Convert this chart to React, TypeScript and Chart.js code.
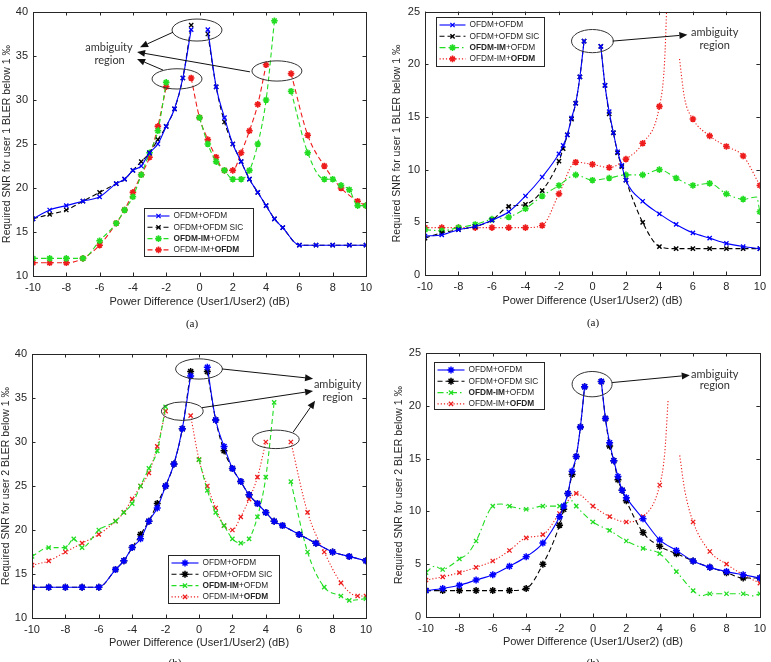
import React, { useEffect, useRef } from 'react';
import { Chart, registerables } from 'chart.js';

Chart.register(...registerables);
Chart.defaults.font.family = '"Liberation Sans", Arial, sans-serif';

const BLUE = '#0000ff';
const BLACK = '#000000';
const GREEN = '#22dd22';
const RED = '#ee1c1c';
const AXIS = '#262626';

// ---------------- data ----------------
// (a) left: user 1, scheme 1
const xA1 = [-10, -9, -8, -7, -6, -5, -4.5, -4, -3.5, -3, -2.5, -2, -1.5, -1, -0.5, 0, 0.5, 1, 1.5, 2, 2.5, 3, 3.5, 4, 4.5, 5, 6, 7, 8, 9, 10];
const yA1Ofdm = [16.5, 17.5, 18, 18.5, 19, 20.5, 21, 22, 22.5, 24, 25, 27, 29, 32.5, 38, null, 38, 31.5, 28, 25, 23, 21, 19.5, 18, 16.5, 15.5, 13.5, 13.5, 13.5, 13.5, 13.5];
const yA1Sic = [16.5, 17, 17.5, 18.5, 19.5, 20.5, 21, 22, 23, 24, 25.5, 27, 29, 32.5, 38.5, null, 37.5, 31.5, 27.5, 25, 23, 21, 19.5, 18, 16.5, 15.5, 13.5, 13.5, 13.5, 13.5, 13.5];
const xA1ImA = [-10, -9, -8, -7, -6, -5, -4.5, -4, -3.5, -3, -2.5, -2, -1, 0, 0.5, 1, 1.5, 2, 2.5, 3, 3.5, 4, 4.5, 5, 5.5, 6.5, 7.5, 8, 8.5, 9, 9.5, 10];
const yA1ImA = [12, 12, 12, 12, 14, 16, 17.5, 19, 21.5, 24, 26.5, 32, null, 28, 25, 23, 22, 21, 21, 22, 25, 30, 39, null, 31, 24, 21, 21, 20.3, 19.8, 18, 18];
const xA1ImB = [-10, -9, -8, -7, -6, -5, -4.5, -4, -3.5, -3, -2.5, -2, -1, -0.5, 0, 0.5, 1, 1.5, 2, 2.5, 3, 3.5, 4, 5, 5.5, 6.5, 7.5, 8.5, 9.5, 10];
const yA1ImB = [11.5, 11.5, 11.5, 12, 13.5, 16, 17.5, 19.5, 21.5, 23.5, 27, 31.5, null, 32.5, 28, 25.5, 23.5, 22, 22, 24, 26.5, 29.5, 34, null, 33, 26, 22.5, 20, 18.5, 18];

// (a) right: user 1, scheme 2
const xB1 = [-10, -9, -8, -7, -6, -5, -4, -3, -2, -1.75, -1.5, -1.25, -1, -0.75, -0.5, 0, 0.5, 0.75, 1, 1.25, 1.5, 1.75, 2, 3, 4, 5, 6, 7, 8, 9, 10];
const yB1Ofdm = [3.7, 3.8, 4.3, 4.6, 5.2, 6, 7.5, 9.3, 11.5, 12.3, 13.3, 14.9, 16.3, 18.8, 22.2, null, 21.7, 18, 15.5, 13.5, 11.7, 10.4, 9, 7, 5.8, 4.8, 4, 3.5, 3, 2.7, 2.5];
const yB1Sic = [3.5, 4, 4.3, 4.6, 5.2, 6.5, 6.7, 8, 10.8, 12, 13.3, 14.8, 16.3, 18.8, 22.2, null, 21.7, 18, 15.3, 13.5, 11.6, 10.3, 9, 5, 2.7, 2.5, 2.5, 2.5, 2.5, 2.5, 2.5];
const xB1ImA = [-10, -9, -8, -7, -6, -5, -4, -3, -2, -1, 0, 1, 2, 3, 4, 5, 6, 7, 8, 9, 9.8, 10];
const yB1ImA = [4.3, 4.2, 4.5, 4.8, 5.3, 5.5, 6.3, 7.5, 8.5, 9.5, 9, 9.2, 9.5, 9.5, 10, 9.2, 8.5, 8.7, 7.7, 7.2, 7.4, 6];
const xB1ImB = [-10, -9, -8, -7, -6, -5, -4, -3, -2, -1, 0, 1, 2, 3, 4, 4.3, 4.45, 4.8, 5.2, 5.5, 6, 7, 8, 9, 10];
const yB1ImB = [4.5, 4.5, 4.5, 4.5, 4.5, 4.5, 4.5, 4.7, 7.7, 10.7, 10.5, 10.2, 11, 12.5, 16, 20, 26, null, 20.5, 16.8, 14.8, 13.2, 12.2, 11.3, 8.5];

// (b) left: user 2, scheme 1
const xA2 = [-10, -9, -8, -7, -6, -5, -4.5, -4, -3.5, -3, -2.5, -2, -1.5, -1, -0.5, 0, 0.5, 1, 1.5, 2, 2.5, 3, 3.5, 4, 4.5, 5, 6, 7, 8, 9, 10];
const yA2Ofdm = [13.5, 13.5, 13.5, 13.5, 13.5, 15.5, 16.5, 18, 19, 21, 22.5, 25, 27.5, 31.5, 37.5, null, 38.5, 32.5, 29.5, 27, 25.5, 24, 23, 22, 21, 20.5, 19.5, 18.5, 17.5, 17, 16.5];
const yA2Sic = [13.5, 13.5, 13.5, 13.5, 13.5, 15.5, 16.5, 18, 19.5, 21, 23, 25, 27.5, 31.5, 38, null, 38, 32.5, 29, 27, 25.5, 24, 23, 22, 21, 20.5, 19.5, 18.5, 17.5, 17, 16.5];
const xA2ImA = [-10, -9, -8, -7.5, -7, -6, -5, -4.5, -4, -3.5, -3, -2.5, -2, -1, 0, 0.5, 1, 1.5, 2, 2.5, 3, 3.5, 4, 4.5, 5, 5.5, 6.5, 7.5, 8.5, 9, 10];
const yA2ImA = [17, 18, 18, 19, 18, 20, 21, 22, 23, 25, 27, 29, 34, null, 28, 24.5, 22, 20.5, 19, 18.5, 19, 21.5, 26, 34.5, null, 25.5, 17.5, 13.5, 12.5, 12, 12.2];
const xA2ImB = [-10, -9, -8, -7, -6, -5, -4.5, -4, -3.5, -3, -2.5, -2, -1, -0.5, 0, 0.5, 1, 1.5, 2, 2.5, 3, 3.5, 4, 5, 5.5, 6.5, 7.5, 8.5, 9.5, 10];
const yA2ImB = [16, 16.5, 17.5, 18.5, 19.5, 21, 22, 23.5, 25, 26.5, 29.5, 33.5, null, 33, 28, 25, 22.5, 20.5, 20, 21.5, 23.5, 26, 30, null, 30, 22, 17.5, 14, 12.5, 12.5];

// (b) right: user 2, scheme 2
const xB2 = [-10, -9, -8, -7, -6, -5, -4, -3, -2, -1.75, -1.5, -1.25, -1, -0.75, -0.5, 0, 0.5, 0.75, 1, 1.25, 1.5, 1.75, 2, 3, 4, 5, 6, 7, 8, 9, 10];
const yB2Ofdm = [2.5, 2.7, 3, 3.5, 4, 4.8, 5.7, 7, 9.5, 10.5, 11.7, 13.8, 15.2, 18, 21.8, null, 22.3, 18.8, 16.5, 14.8, 13.3, 12, 11.3, 9.3, 7.3, 6.3, 5.3, 4.7, 4.3, 4, 3.7];
const yB2Sic = [2.5, 2.5, 2.5, 2.5, 2.5, 2.5, 2.7, 5, 8.7, 10.2, 11.7, 13.5, 15.2, 18, 21.8, null, 22.3, 18.8, 16.2, 14.8, 13, 12, 11, 8, 6.7, 6, 5.3, 4.7, 4.2, 3.7, 3.7];
const xB2ImA = [-10, -9.5, -9, -8.5, -8, -7.5, -7, -6, -5.5, -5, -4, -3, -2, -1.25, -1, 0, 1, 2, 3, 4, 5, 6, 6.5, 7, 8, 9, 9.5, 10];
const yB2ImA = [4.2, 4.8, 4.5, 4.9, 5.5, 6, 7.2, 10.5, 10.7, 10.5, 10.2, 10.5, 10.5, 11, 10.5, 9, 8.2, 7.2, 6.5, 6, 4.3, 2.5, 2, 2.2, 2.2, 2.2, 2, 2.2];
const xB2ImB = [-10, -9, -8, -7, -6, -5, -4, -3, -2, -1, 0, 1, 2, 3, 4, 4.3, 4.5, 4.85, 5.2, 5.5, 6, 7, 8, 9, 10];
const yB2ImB = [3.5, 3.8, 4.2, 4.7, 5.3, 6.3, 7.5, 7.8, 9.8, 11.7, 10.5, 9.5, 9, 9.5, 12.5, 15.5, 20.5, null, 15.3, 12, 9, 6.2, 5, 4, 3.2];

// legend labels: [text, bold]
const LBL_OFDM: [string, boolean][] = [['OFDM+OFDM', false]];
const LBL_SIC: [string, boolean][] = [['OFDM+OFDM SIC', false]];
const LBL_IMA: [string, boolean][] = [['OFDM-IM', true], ['+OFDM', false]];
const LBL_IMB: [string, boolean][] = [['OFDM-IM+', false], ['OFDM', true]];

const X_TITLE = 'Power Difference (User1/User2) (dB)';
const Y_TITLE_1 = 'Required SNR for user 1 BLER below 1 \u2030';
const Y_TITLE_2 = 'Required SNR for user 2 BLER below 1 \u2030';
const X_TICK_STEP = 2;
const Y_TICK_STEP = 5;

// ---------------- styles ----------------
const DASH = [5, 3];
const DOT = [1.2, 2];
const DASHDOT = [6, 3, 1.5, 3];
const SOLID: number[] = [];

type Series = {
  label: [string, boolean][];
  xs: number[];
  ys: (number | null)[];
  color: string;
  dash: number[];
  marker: 'crossRot' | 'star';
  mr: number;
  mw: number;
  intOnly?: boolean;
};

type Panel = {
  left: number; top: number; w: number; h: number;
  pad: { left: number; top: number; right: number; bottom: number };
  yW: number; xH: number;
  yMin: number; yMax: number; yTitle: string;
  series: Series[];
  legend: { dx: number; dy: number; w: number; h: number; textX: number };
  ellipses: { x: number; y: number; rx: number; ry: number }[];
  arrows: { x1: number; y1: number; x2: number; y2: number }[];
  texts: { x: number; y: number; t: string }[];
};

const panels: Panel[] = [
  {
    left: 0, top: 0, w: 385, h: 331,
    pad: { left: 1, top: 12, right: 19, bottom: 22 }, yW: 32, xH: 33,
    yMin: 10, yMax: 40, yTitle: Y_TITLE_1,
    series: [
      { label: LBL_OFDM, xs: xA1, ys: yA1Ofdm, color: BLUE, dash: SOLID, marker: 'crossRot', mr: 3, mw: 1.3 },
      { label: LBL_SIC, xs: xA1, ys: yA1Sic, color: BLACK, dash: DASH, marker: 'crossRot', mr: 3, mw: 1.3 },
      { label: LBL_IMA, xs: xA1ImA, ys: yA1ImA, color: GREEN, dash: DASH, marker: 'star', mr: 3.3, mw: 1.6 },
      { label: LBL_IMB, xs: xA1ImB, ys: yA1ImB, color: RED, dash: DASH, marker: 'star', mr: 3.3, mw: 1.6 },
    ],
    legend: { dx: 111, dy: 196, w: 109, h: 48, textX: 29 },
    ellipses: [
      { x: -0.15, y: 37.95, rx: 1.5, ry: 1.25 },
      { x: -1.35, y: 32.4, rx: 1.5, ry: 1.15 },
      { x: 4.65, y: 33.3, rx: 1.5, ry: 1.15 },
    ],
    arrows: [
      { x1: -1.59, y1: 37.7, x2: -3.57, y2: 36.0 },
      { x1: 3.03, y1: 33.2, x2: -3.75, y2: 35.45 },
      { x1: -2.19, y1: 33.4, x2: -3.75, y2: 34.66 },
    ],
    texts: [
      { x: -5.44, y: 36.0, t: 'ambiguity' },
      { x: -5.4, y: 34.55, t: 'region' },
    ],
  },
  {
    left: 385, top: 0, w: 386, h: 331,
    pad: { left: 6, top: 9, right: 9, bottom: 23 }, yW: 34, xH: 33,
    yMin: 0, yMax: 25, yTitle: Y_TITLE_1,
    series: [
      { label: LBL_OFDM, xs: xB1, ys: yB1Ofdm, color: BLUE, dash: SOLID, marker: 'crossRot', mr: 3, mw: 1.3 },
      { label: LBL_SIC, xs: xB1, ys: yB1Sic, color: BLACK, dash: DASH, marker: 'crossRot', mr: 3, mw: 1.5 },
      { label: LBL_IMA, xs: xB1ImA, ys: yB1ImA, color: GREEN, dash: DASHDOT, marker: 'star', mr: 3.3, mw: 1.6, intOnly: true },
      { label: LBL_IMB, xs: xB1ImB, ys: yB1ImB, color: RED, dash: DOT, marker: 'star', mr: 3.3, mw: 1.6, intOnly: true },
    ],
    legend: { dx: 11, dy: 5, w: 108, h: 49, textX: 33 },
    ellipses: [{ x: 0, y: 22.2, rx: 1.25, ry: 1.1 }],
    arrows: [{ x1: 1.2, y1: 22.2, x2: 5.67, y2: 22.8 }],
    texts: [
      { x: 7.3, y: 23.0, t: 'ambiguity' },
      { x: 7.3, y: 21.8, t: 'region' },
    ],
  },
  {
    left: 0, top: 331, w: 385, h: 331,
    pad: { left: 0, top: 23, right: 19, bottom: 12 }, yW: 32, xH: 32,
    yMin: 10, yMax: 40, yTitle: Y_TITLE_2,
    series: [
      { label: LBL_OFDM, xs: xA2, ys: yA2Ofdm, color: BLUE, dash: SOLID, marker: 'star', mr: 3.5, mw: 1.5 },
      { label: LBL_SIC, xs: xA2, ys: yA2Sic, color: BLACK, dash: DASH, marker: 'star', mr: 3.5, mw: 1.5 },
      { label: LBL_IMA, xs: xA2ImA, ys: yA2ImA, color: GREEN, dash: DASH, marker: 'crossRot', mr: 3, mw: 1.3 },
      { label: LBL_IMB, xs: xA2ImB, ys: yA2ImB, color: RED, dash: DOT, marker: 'crossRot', mr: 3, mw: 1.3 },
    ],
    legend: { dx: 136, dy: 201, w: 111, h: 48, textX: 34 },
    ellipses: [
      { x: 0, y: 38.3, rx: 1.4, ry: 1.15 },
      { x: -1.0, y: 33.5, rx: 1.25, ry: 1.05 },
      { x: 4.6, y: 30.3, rx: 1.4, ry: 1.05 },
    ],
    arrows: [
      { x1: 1.38, y1: 38.3, x2: 6.83, y2: 37.2 },
      { x1: 0.18, y1: 33.9, x2: 6.83, y2: 35.8 },
      { x1: 5.63, y1: 31.1, x2: 6.95, y2: 34.7 },
    ],
    texts: [
      { x: 8.3, y: 36.5, t: 'ambiguity' },
      { x: 8.3, y: 35.1, t: 'region' },
    ],
  },
  {
    left: 385, top: 331, w: 386, h: 331,
    pad: { left: 8, top: 22, right: 9, bottom: 13 }, yW: 33, xH: 32,
    yMin: 0, yMax: 25, yTitle: Y_TITLE_2,
    series: [
      { label: LBL_OFDM, xs: xB2, ys: yB2Ofdm, color: BLUE, dash: SOLID, marker: 'star', mr: 3.5, mw: 1.5 },
      { label: LBL_SIC, xs: xB2, ys: yB2Sic, color: BLACK, dash: DASH, marker: 'star', mr: 3.5, mw: 1.5 },
      { label: LBL_IMA, xs: xB2ImA, ys: yB2ImA, color: GREEN, dash: DASHDOT, marker: 'crossRot', mr: 3, mw: 1.3, intOnly: true },
      { label: LBL_IMB, xs: xB2ImB, ys: yB2ImB, color: RED, dash: DOT, marker: 'crossRot', mr: 3, mw: 1.3, intOnly: true },
    ],
    legend: { dx: 8, dy: 9, w: 110, h: 47, textX: 34 },
    ellipses: [{ x: -0.05, y: 22.05, rx: 1.2, ry: 1.2 }],
    arrows: [{ x1: 1.15, y1: 22.2, x2: 5.8, y2: 22.9 }],
    texts: [
      { x: 7.3, y: 23.0, t: 'ambiguity' },
      { x: 7.3, y: 21.9, t: 'region' },
    ],
  },
];

// ---------------- drawing helpers ----------------
function drawMarker(ctx: CanvasRenderingContext2D, kind: string, x: number, y: number, r: number, color: string, lw: number) {
  ctx.save();
  ctx.strokeStyle = color;
  ctx.lineWidth = lw;
  ctx.setLineDash([]);
  ctx.beginPath();
  const d = r * Math.SQRT1_2;
  ctx.moveTo(x - d, y - d); ctx.lineTo(x + d, y + d);
  ctx.moveTo(x - d, y + d); ctx.lineTo(x + d, y - d);
  if (kind === 'star') {
    ctx.moveTo(x - r, y); ctx.lineTo(x + r, y);
    ctx.moveTo(x, y - r); ctx.lineTo(x, y + r);
  }
  ctx.stroke();
  ctx.restore();
}

function makeDecor(p: Panel) {
  return {
    id: 'decor',
    afterDatasetsDraw(chart: any) {
      const { ctx, chartArea: a, scales } = chart;
      const sx = scales.x;
      const sy = scales.y;
      ctx.save();
      // box
      ctx.strokeStyle = AXIS;
      ctx.lineWidth = 1;
      ctx.setLineDash([]);
      ctx.strokeRect(Math.round(a.left) + 0.5, Math.round(a.top) + 0.5, Math.round(a.right - a.left), Math.round(a.bottom - a.top));
      // inward ticks
      ctx.beginPath();
      sx.ticks.forEach((t: any) => {
        const px = Math.round(sx.getPixelForValue(t.value)) + 0.5;
        ctx.moveTo(px, a.bottom); ctx.lineTo(px, a.bottom - 3.5);
        ctx.moveTo(px, a.top); ctx.lineTo(px, a.top + 3.5);
      });
      sy.ticks.forEach((t: any) => {
        const py = Math.round(sy.getPixelForValue(t.value)) + 0.5;
        ctx.moveTo(a.left, py); ctx.lineTo(a.left + 3.5, py);
        ctx.moveTo(a.right, py); ctx.lineTo(a.right - 3.5, py);
      });
      ctx.stroke();

      // ellipses
      ctx.strokeStyle = '#333333';
      ctx.lineWidth = 1;
      p.ellipses.forEach((e) => {
        const cx = sx.getPixelForValue(e.x);
        const cy = sy.getPixelForValue(e.y);
        const rx = Math.abs(sx.getPixelForValue(e.x + e.rx) - cx);
        const ry = Math.abs(sy.getPixelForValue(e.y + e.ry) - cy);
        ctx.beginPath();
        ctx.ellipse(cx, cy, rx, ry, 0, 0, Math.PI * 2);
        ctx.stroke();
      });
      // arrows
      ctx.fillStyle = '#111111';
      ctx.strokeStyle = '#111111';
      p.arrows.forEach((ar) => {
        const x1 = sx.getPixelForValue(ar.x1), y1 = sy.getPixelForValue(ar.y1);
        const x2 = sx.getPixelForValue(ar.x2), y2 = sy.getPixelForValue(ar.y2);
        const ang = Math.atan2(y2 - y1, x2 - x1);
        const L = 8, W = 3.5;
        const bx = x2 - L * Math.cos(ang), by = y2 - L * Math.sin(ang);
        ctx.beginPath();
        ctx.moveTo(x1, y1); ctx.lineTo(bx, by);
        ctx.stroke();
        ctx.beginPath();
        ctx.moveTo(x2, y2);
        ctx.lineTo(bx + W * Math.sin(ang), by - W * Math.cos(ang));
        ctx.lineTo(bx - W * Math.sin(ang), by + W * Math.cos(ang));
        ctx.closePath();
        ctx.fill();
      });
      // texts
      ctx.fillStyle = '#333333';
      ctx.font = '11px Lato, "Open Sans", sans-serif';
      ctx.textAlign = 'center';
      ctx.textBaseline = 'middle';
      p.texts.forEach((t) => {
        ctx.fillText(t.t, sx.getPixelForValue(t.x), sy.getPixelForValue(t.y));
      });

      // legend
      const L = p.legend;
      const lx = Math.round(a.left + L.dx) + 0.5;
      const ly = Math.round(a.top + L.dy) + 0.5;
      ctx.fillStyle = '#ffffff';
      ctx.fillRect(lx, ly, L.w, L.h);
      ctx.strokeStyle = AXIS;
      ctx.lineWidth = 1;
      ctx.strokeRect(lx, ly, L.w, L.h);
      ctx.textAlign = 'left';
      ctx.textBaseline = 'middle';
      p.series.forEach((s, i) => {
        const ry = ly + 7.5 + i * 11.3;
        const x0 = lx + 3, x1 = lx + L.textX - 4;
        ctx.save();
        ctx.strokeStyle = s.color;
        ctx.lineWidth = 1.1;
        ctx.setLineDash(s.dash);
        ctx.beginPath();
        ctx.moveTo(x0, ry); ctx.lineTo(x1, ry);
        ctx.stroke();
        ctx.restore();
        drawMarker(ctx, s.marker, (x0 + x1) / 2, ry, s.mr, s.color, s.mw);
        let tx = lx + L.textX;
        ctx.fillStyle = AXIS;
        s.label.forEach(([txt, bold]) => {
          ctx.font = (bold ? 'bold ' : '') + '8.3px "Liberation Sans", Arial, sans-serif';
          ctx.fillText(txt, tx, ry);
          tx += ctx.measureText(txt).width;
        });
      });
      ctx.restore();
    },
  };
}

function PanelChart({ p }: { p: Panel }) {
  const ref = useRef<HTMLCanvasElement | null>(null);
  useEffect(() => {
    if (!ref.current) return;
    const datasets = p.series.map((s) => ({
      label: s.label.map((l) => l[0]).join(''),
      data: s.xs.map((x, i) => ({ x, y: s.ys[i] })),
      borderColor: s.color,
      backgroundColor: s.color,
      borderWidth: 1.1,
      borderDash: s.dash,
      pointStyle: s.marker,
      pointRadius: s.intOnly ? (c: any) => (c.raw && Number.isInteger(c.raw.x) ? s.mr : 0) : s.mr,
      pointBorderWidth: s.mw,
      pointBorderColor: s.color,
      pointBackgroundColor: s.color,
      spanGaps: false,
      cubicInterpolationMode: 'monotone' as const,
    }));
    const tickFont = { size: 11 };
    const chart = new Chart(ref.current, {
      type: 'line',
      data: { datasets },
      options: {
        animation: false,
        responsive: false,
        devicePixelRatio: 1,
        layout: { padding: p.pad },
        plugins: { legend: { display: false }, tooltip: { enabled: false } },
        scales: {
          x: {
            type: 'linear',
            min: -10,
            max: 10,
            ticks: { stepSize: X_TICK_STEP, color: AXIS, font: tickFont, padding: 5 },
            grid: { display: false, drawTicks: false },
            border: { display: false },
            title: { display: true, text: X_TITLE, color: AXIS, font: { size: 11 }, padding: 0 },
            afterFit: (s: any) => { s.height = p.xH; },
          },
          y: {
            type: 'linear',
            min: p.yMin,
            max: p.yMax,
            ticks: { stepSize: Y_TICK_STEP, color: AXIS, font: tickFont, padding: 5 },
            grid: { display: false, drawTicks: false },
            border: { display: false },
            title: { display: true, text: p.yTitle, color: AXIS, font: { size: 10.5 }, padding: 0 },
            afterFit: (s: any) => { s.width = p.yW; },
          },
        },
      } as any,
      plugins: [makeDecor(p) as any],
    });
    return () => chart.destroy();
  }, [p]);
  return (
    <canvas
      ref={ref}
      width={p.w}
      height={p.h}
      style={{ position: 'absolute', left: p.left, top: p.top, width: p.w, height: p.h, display: 'block' }}
    />
  );
}

const captions = [
  { t: '(a)', x: 192, y: 317 },
  { t: '(a)', x: 593, y: 316 },
  { t: '(b)', x: 175, y: 656 },
  { t: '(b)', x: 593, y: 656 },
];

export default function App() {
  return (
    <div style={{ position: 'absolute', left: 0, top: 0, width: 771, height: 662, overflow: 'hidden', background: '#ffffff' }}>
      {panels.map((p, i) => (
        <PanelChart key={i} p={p} />
      ))}
      {captions.map((c, i) => (
        <div
          key={'c' + i}
          style={{
            position: 'absolute',
            left: c.x - 20,
            top: c.y,
            width: 40,
            textAlign: 'center',
            font: '11px "Liberation Serif", "Times New Roman", serif',
            lineHeight: '12px',
            color: '#111',
          }}
        >
          {c.t}
        </div>
      ))}
    </div>
  );
}
